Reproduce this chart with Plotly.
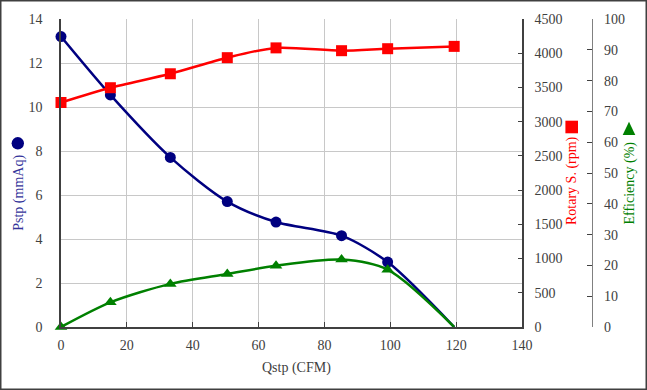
import plotly.graph_objects as go

# ---- data ----
qstp = [0, 15.0, 33.2, 50.5, 65.3, 85.2, 99.2, 119.4]
pstp = [13.2, 10.55, 7.71, 5.70, 4.77, 4.15, 2.95, 0.0]
rpm = [3280, 3496, 3700, 3935, 4078, 4037, 4066, 4100]
eff = [0.0, 8.0, 14.0, 17.2, 19.9, 21.9, 18.6, 0.0]

x_ticks = [0, 20, 40, 60, 80, 100, 120, 140]

W, H = 647, 390
L, R, T, B = 61, 55, 19, 63
PW = W - L - R  # 531
PH = H - T - B  # 308
XD = 461 / PW


def px(xp):
    return (xp - L) / PW


def py(yp):
    return (H - B - yp) / PH


FONT = "Liberation Serif, Times New Roman, serif"
TXT = "#404040"
NAVY = "#000080"
RED = "#ff0000"
GREEN = "#008000"

fig = go.Figure()

n = len(qstp)
fig.add_trace(go.Scatter(
    x=qstp, y=pstp, mode="lines+markers", line=dict(color=NAVY, width=2.5, shape="spline", smoothing=0.8),
    marker=dict(symbol="circle", size=[11] * (n - 1) + [0], color=NAVY, opacity=1, line=dict(width=0)),
    yaxis="y", showlegend=False, cliponaxis=False, hoverinfo="skip"))
fig.add_trace(go.Scatter(
    x=qstp, y=rpm, mode="lines+markers", line=dict(color=RED, width=2.5, shape="spline", smoothing=0.8),
    marker=dict(symbol="square", size=11, color=RED, opacity=1, line=dict(width=0)),
    yaxis="y2", showlegend=False, cliponaxis=False, hoverinfo="skip"))
fig.add_trace(go.Scatter(
    x=qstp, y=eff, mode="lines+markers", line=dict(color=GREEN, width=2.5, shape="spline", smoothing=0.8),
    marker=dict(symbol="triangle-up", size=[11] * (n - 1) + [0], color=GREEN, opacity=1, line=dict(width=0)),
    yaxis="y3", showlegend=False, cliponaxis=False, hoverinfo="skip"))

tickfont = dict(family=FONT, size=14, color=TXT)

fig.update_layout(
    width=W, height=H,
    margin=dict(l=L, r=R, t=T, b=B, autoexpand=False),
    paper_bgcolor="white", plot_bgcolor="white",
    font=dict(family=FONT, size=14, color=TXT),
    xaxis=dict(domain=[0, XD], range=[0, 140], tickvals=x_ticks, showgrid=True, gridcolor="#c8c8c8",
               gridwidth=1, showline=True, linecolor="#404040", linewidth=1.5, ticks="inside",
               ticklen=5, tickcolor="#404040", tickfont=tickfont, zeroline=False,
               ticklabelstandoff=4),
    yaxis=dict(range=[0, 14], dtick=2, showgrid=True, gridcolor="#c8c8c8", gridwidth=1,
               showline=True, linecolor="#404040", linewidth=1.5, ticks="", tickfont=tickfont,
               zeroline=False, ticklabelstandoff=14),
    yaxis2=dict(range=[0, 4500], dtick=500, overlaying="y", side="right", anchor="x",
                showgrid=False, showline=True, linecolor="#404040", linewidth=1.5,
                ticks="inside", ticklen=4, tickcolor="#404040", tickfont=tickfont,
                zeroline=False, ticklabelstandoff=8),
    yaxis3=dict(range=[0, 100], dtick=10, overlaying="y", side="right", anchor="free",
                position=1.0, showgrid=False, showline=True, linecolor="#808080", linewidth=1.2,
                ticks="inside", ticklen=5, tickcolor="#404040", tickfont=tickfont,
                zeroline=False, ticklabelstandoff=8),
)

ann = [
    dict(text="Qstp (CFM)", x=px(296), y=py(368), color=TXT, angle=0),
    dict(text="Pstp (mmAq)", x=px(18.3), y=py(192.5), color="#33339a", angle=-90),
    dict(text="Rotary S. (rpm)", x=px(572), y=py(181), color=RED, angle=-90),
    dict(text="Efficiency (%)", x=px(629), y=py(183.5), color=GREEN, angle=-90),
]
for a in ann:
    fig.add_annotation(text=a["text"], x=a["x"], y=a["y"], xref="paper", yref="paper",
                       xanchor="center", yanchor="middle", showarrow=False, textangle=a["angle"],
                       font=dict(family=FONT, size=14, color=a["color"]))

# legend-like symbols next to the axis titles
shapes = []
cx, cy, r = 17.8, 143.3, 6.2
shapes.append(dict(type="circle", xref="paper", yref="paper", x0=px(cx - r), x1=px(cx + r),
                   y0=py(cy + r), y1=py(cy - r), fillcolor=NAVY, line=dict(width=0)))
sx, sy, s = 571.7, 127, 6.3
shapes.append(dict(type="rect", xref="paper", yref="paper", x0=px(sx - s), x1=px(sx + s),
                   y0=py(sy + s), y1=py(sy - s), fillcolor=RED, line=dict(width=0)))
tx = 629
path = "M {:.5f},{:.5f} L {:.5f},{:.5f} L {:.5f},{:.5f} Z".format(
    px(tx - 6.3), py(135), px(tx + 6.3), py(135), px(tx), py(121.7))
shapes.append(dict(type="path", xref="paper", yref="paper", path=path, fillcolor=GREEN,
                   line=dict(width=0)))
# outer frame
shapes.append(dict(type="rect", xref="paper", yref="paper", x0=px(0.75), x1=px(W - 0.75),
                   y0=py(H - 0.75), y1=py(0.75), line=dict(color="#404040", width=1.5),
                   fillcolor="rgba(0,0,0,0)", layer="above"))
fig.update_layout(shapes=shapes)

fig.write_html("out.html", config={"displayModeBar": False},
               post_script="document.body.style.margin='0';document.body.style.overflow='hidden';")
